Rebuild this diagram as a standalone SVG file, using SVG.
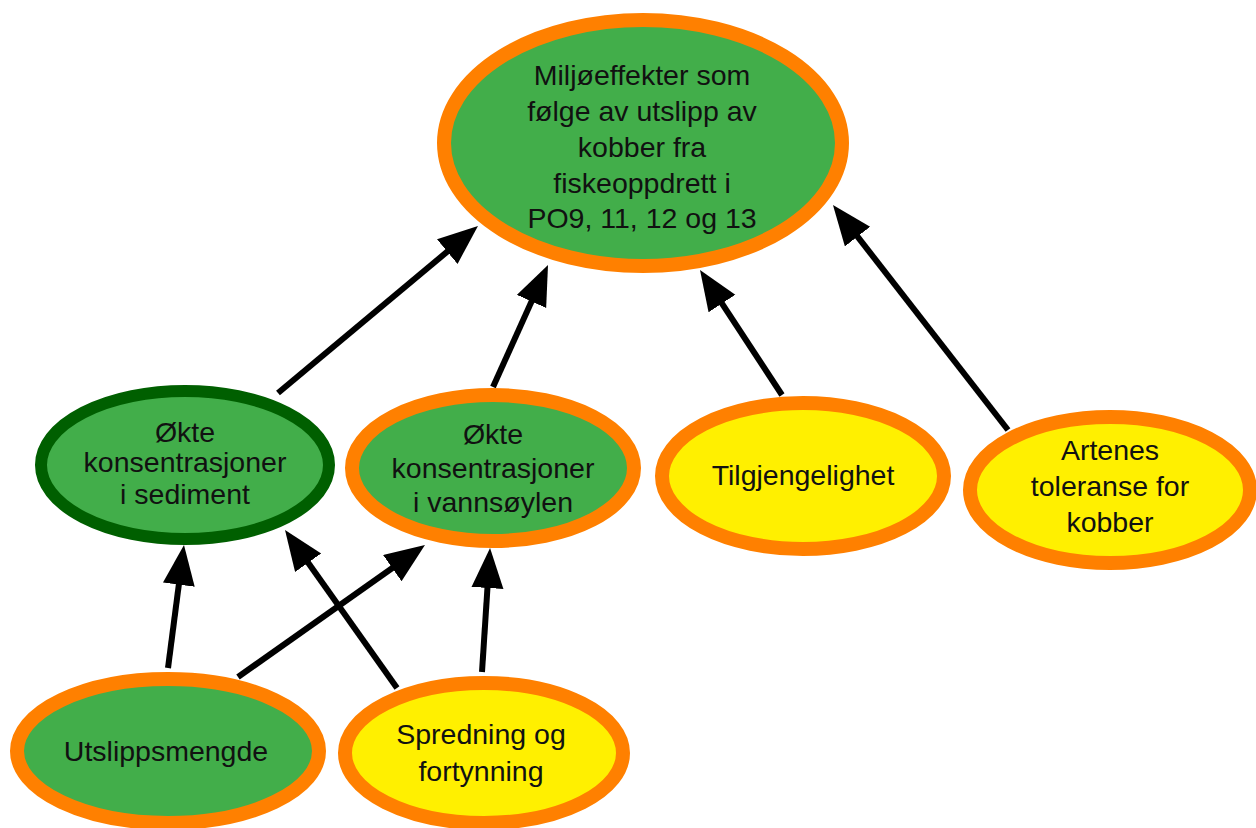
<svg xmlns="http://www.w3.org/2000/svg" width="1256" height="828" viewBox="0 0 1256 828">
<defs>
<marker id="ah" markerUnits="userSpaceOnUse" markerWidth="42" markerHeight="34" refX="30" refY="16" orient="auto">
<path d="M0,0 L40,16 L0,32 z" fill="#000"/>
</marker>
<style>
.n ellipse{stroke-width:14}
.g{fill:#42AE4A}
.y{fill:#FFF000}
.o{stroke:#FF8000}
.d{stroke:#005F00}
text{font-family:"Liberation Sans",Arial,sans-serif;font-size:28.5px;fill:#111;text-anchor:middle}
.e line{stroke:#000;stroke-width:6;marker-end:url(#ah)}
</style>
</defs>
<rect width="1256" height="828" fill="#fff"/>
<g id="edges" class="e">
<line x1="278" y1="393" x2="470.3" y2="232.4"/>
<line x1="493" y1="387" x2="543.9" y2="274.1"/>
<line x1="782" y1="395" x2="705.5" y2="278.4"/>
<line x1="1008" y1="430" x2="839.1" y2="212.9"/>
<line x1="168" y1="668" x2="182.7" y2="554.9"/>
<line x1="238" y1="677" x2="416.8" y2="550.8"/>
<line x1="397" y1="688" x2="290.8" y2="538.2"/>
<line x1="482" y1="672" x2="489.4" y2="558"/>
</g>
<g id="top" class="n">
<ellipse cx="643" cy="143" rx="199" ry="123" class="g o"/>
<text x="642" y="85">Miljøeffekter som</text>
<text x="642" y="121">følge av utslipp av</text>
<text x="642" y="157">kobber fra</text>
<text x="642" y="193">fiskeoppdrett i</text>
<text x="642" y="228">PO9, 11, 12 og 13</text>
</g>
<g id="sediment" class="n">
<ellipse cx="185" cy="465" rx="144" ry="74" class="g d" style="stroke-width:12"/>
<text x="185" y="442">Økte</text>
<text x="185" y="472">konsentrasjoner</text>
<text x="185" y="504">i sediment</text>
</g>
<g id="vannsoylen" class="n">
<ellipse cx="493" cy="468" rx="141" ry="73" class="g o"/>
<text x="493" y="444">Økte</text>
<text x="493" y="478">konsentrasjoner</text>
<text x="493" y="512">i vannsøylen</text>
</g>
<g id="tilgjengelighet" class="n">
<ellipse cx="803" cy="476" rx="141" ry="73" class="y o"/>
<text x="803" y="485">Tilgjengelighet</text>
</g>
<g id="artenes" class="n">
<ellipse cx="1110" cy="490" rx="140" ry="73" class="y o"/>
<text x="1110" y="460">Artenes</text>
<text x="1110" y="496">toleranse for</text>
<text x="1110" y="532">kobber</text>
</g>
<g id="utslipp" class="n">
<ellipse cx="168" cy="751" rx="151" ry="72" class="g o"/>
<text x="166" y="761">Utslippsmengde</text>
</g>
<g id="spredning" class="n">
<ellipse cx="484" cy="753" rx="139" ry="70" class="y o"/>
<text x="481" y="744">Spredning og</text>
<text x="481" y="781">fortynning</text>
</g>
</svg>
